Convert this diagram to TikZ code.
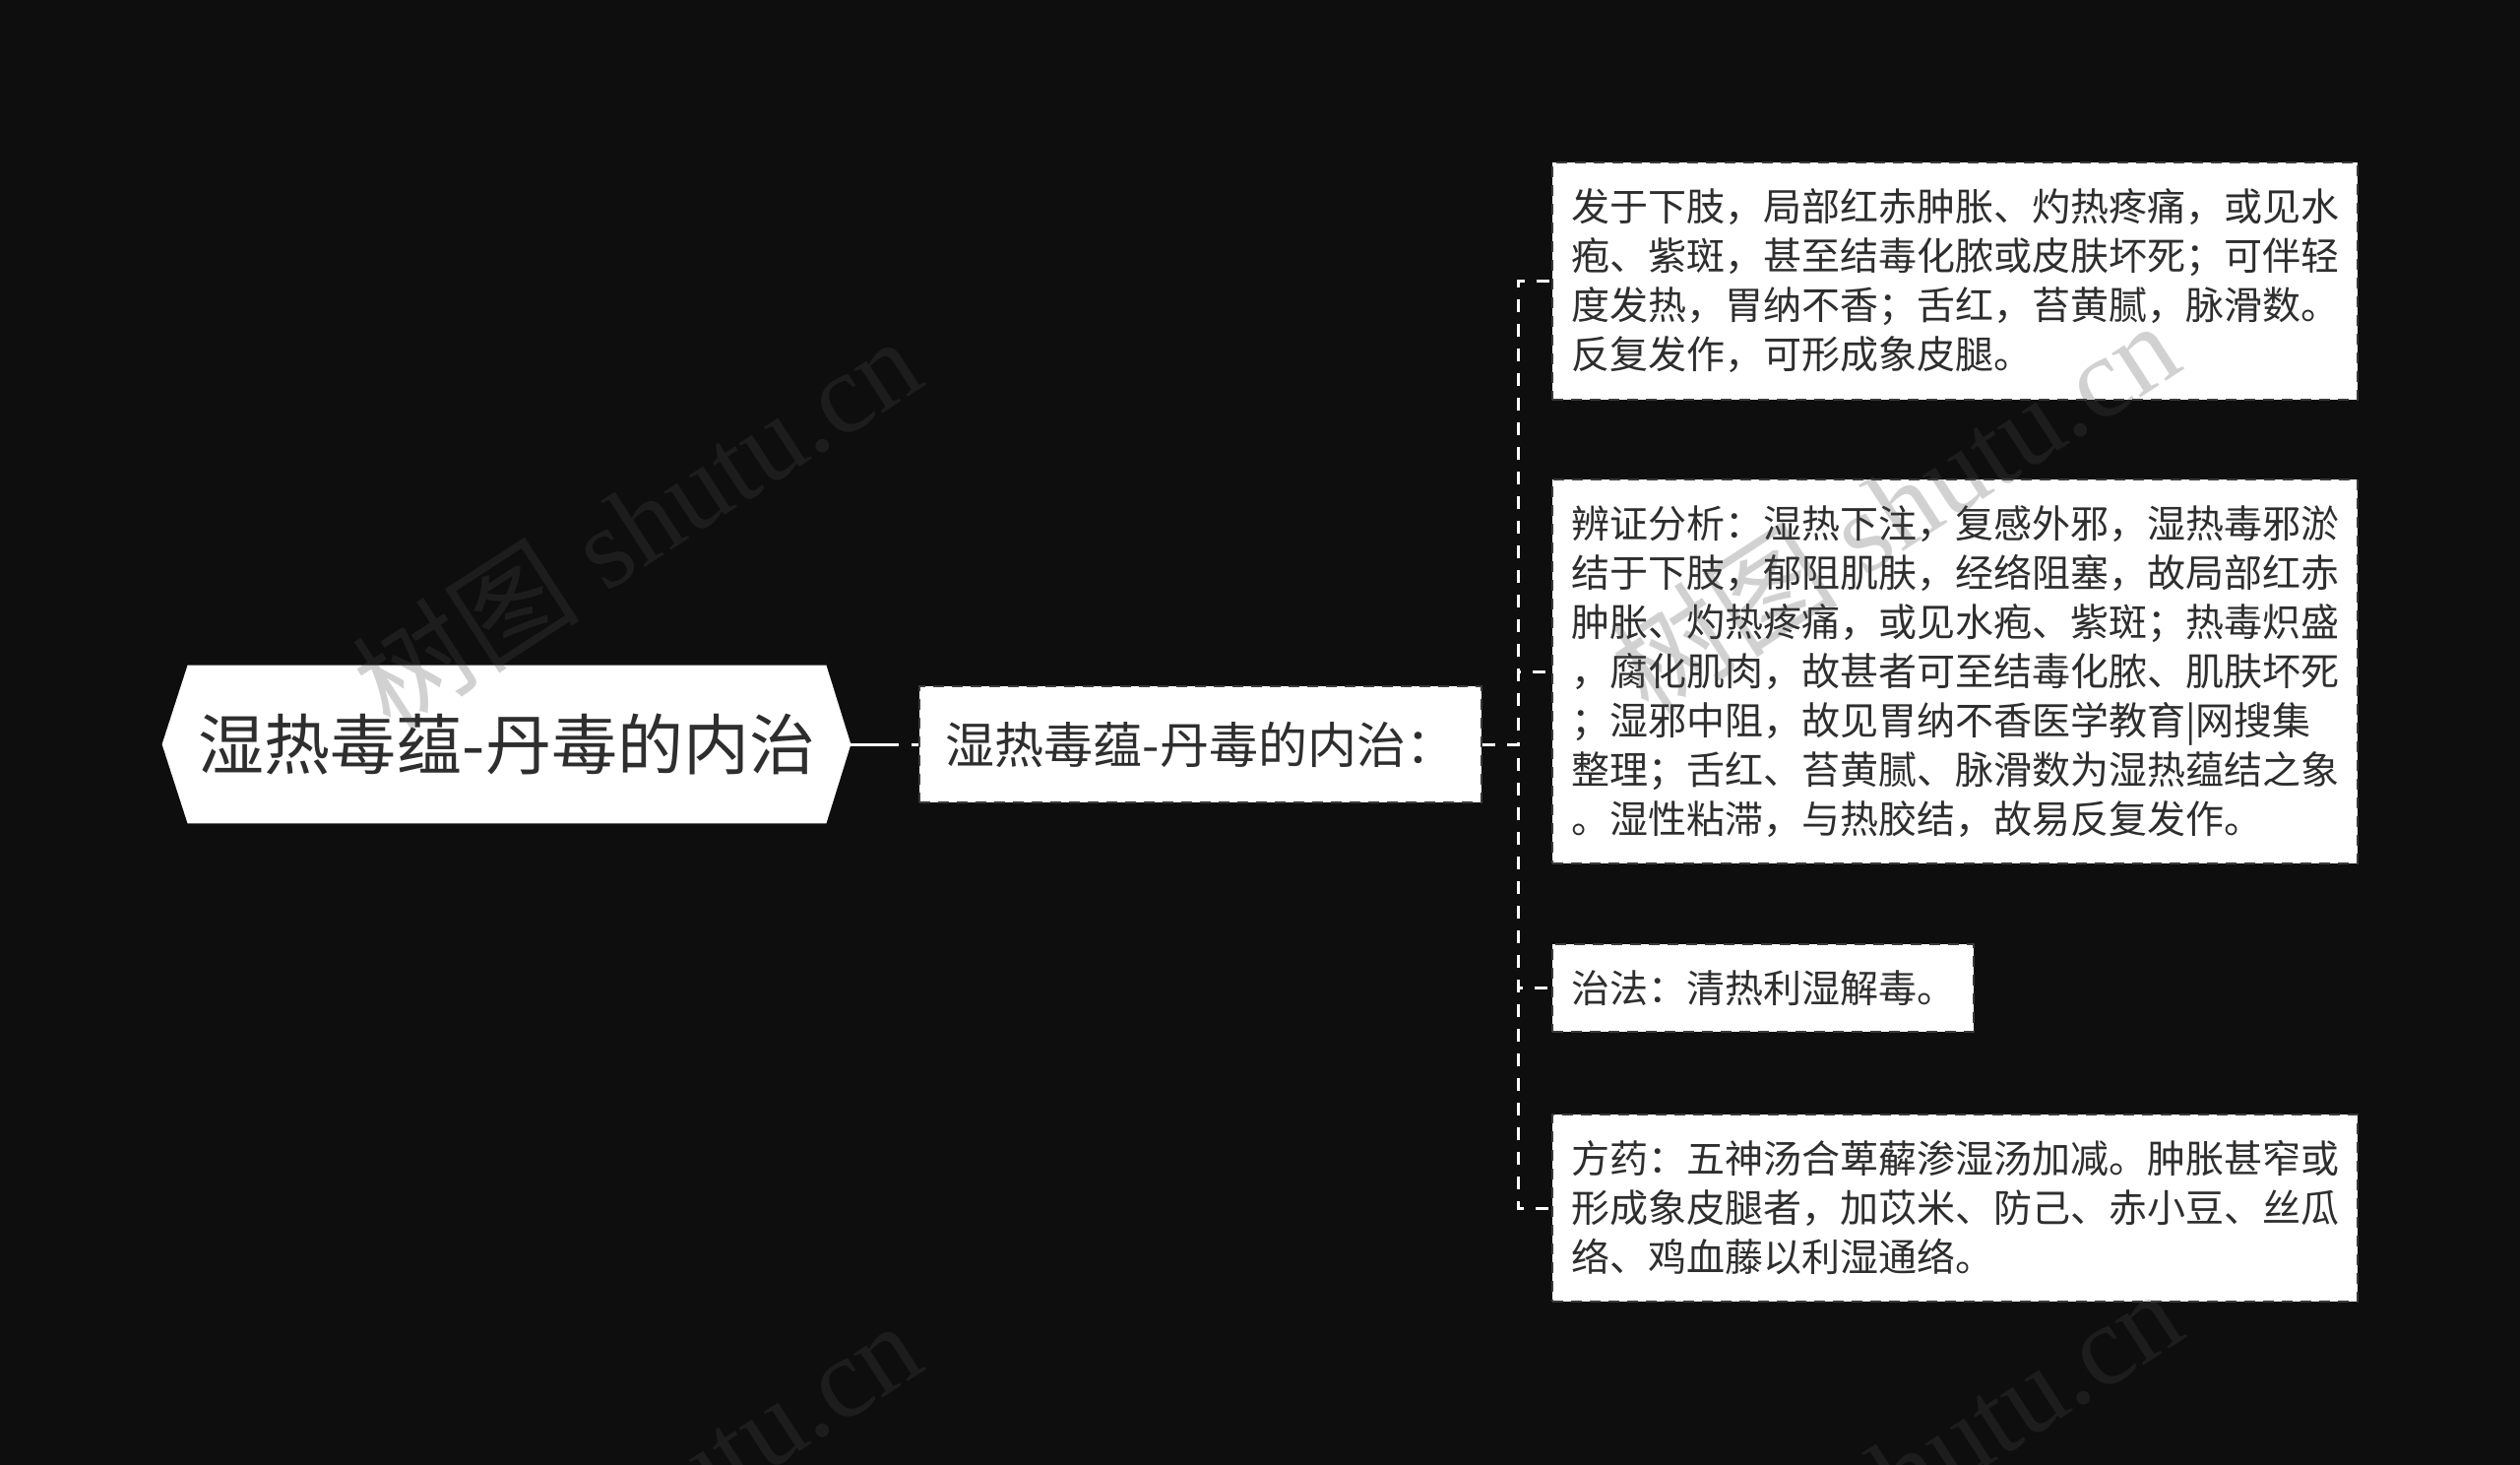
\documentclass[tikz,border=0pt]{standalone}
\usepackage{fontspec}
\newfontfamily\cjk{Noto Sans CJK SC}
\newfontfamily\wmlatin{Liberation Serif}
\usetikzlibrary{calc}
\pgfdeclarelayer{bg}
\pgfsetlayers{bg,main}
\definecolor{bgc}{HTML}{0E0E0E}
\definecolor{txt}{HTML}{2E2E2E}
\definecolor{bord}{HTML}{3A3A3A}
\definecolor{wmc}{HTML}{4A4A4A}
\begin{document}
\begin{tikzpicture}[x=0.5pt,y=-0.5pt,
  conn/.style={draw=white, line width=1.5pt, dash pattern=on 6.5pt off 6pt},
  rootconn/.style={draw=white, line width=1.5pt, dash pattern=on 24.5pt off 6.5pt},
  boxed/.style={fill=white, draw=bord, line width=1pt, dash pattern=on 5.5pt off 4pt, inner sep=0pt, text=txt},
  leaf/.style={boxed, anchor=west, align=left, font=\cjk\fontsize{19.5pt}{25pt}\selectfont},
  roottext/.style={inner sep=0pt, text=txt, font=\cjk\fontsize{33.5pt}{40pt}\selectfont},
  wm/.style={rotate=33, text=wmc, opacity=0.25, font=\wmlatin\fontsize{58pt}{60pt}\selectfont}]
\useasboundingbox (0,0) rectangle (2560,1488);
\clip (0,0) rectangle (2560,1488);
\begin{pgfonlayer}{bg}
\fill[bgc] (0,0) rectangle (2560,1488);
\end{pgfonlayer}

% root
\node[roottext, minimum width=324pt, minimum height=80pt] (root) at (515,756) {湿热毒蕴-丹毒的内治};
\coordinate (roottip) at ($(root.east)+(25,0)$);
\begin{pgfonlayer}{bg}
\fill[white] (root.north west) -- (root.north east) -- (roottip) -- (root.south east)
  -- (root.south west) -- ($(root.west)+(-26,0)$) -- cycle;
\end{pgfonlayer}

% child
\node[boxed, minimum width=285.5pt, minimum height=59pt, font=\cjk\fontsize{25pt}{30pt}\selectfont] (child) at (1219.5,756) {湿热毒蕴-丹毒的内治：};

% leaves
\node[leaf, text width=390pt, minimum width=409pt, minimum height=120.5pt] (l1) at (1576,285.5)
 {发于下肢，局部红赤肿胀、灼热疼痛，或见水\\疱、紫斑，甚至结毒化脓或皮肤坏死；可伴轻\\度发热，胃纳不香；舌红，苔黄腻，脉滑数。\\反复发作，可形成象皮腿。};
\node[leaf, text width=390pt, minimum width=409pt, minimum height=195pt] (l2) at (1576,682)
 {辨证分析：湿热下注，复感外邪，湿热毒邪淤\\结于下肢，郁阻肌肤，经络阻塞，故局部红赤\\肿胀、灼热疼痛，或见水疱、紫斑；热毒炽盛\\，腐化肌肉，故甚者可至结毒化脓、肌肤坏死\\；湿邪中阻，故见胃纳不香医学教育|网搜集\\整理；舌红、苔黄腻、脉滑数为湿热蕴结之象\\。湿性粘滞，与热胶结，故易反复发作。};
\node[leaf, minimum width=214pt, minimum height=44.5pt] (l3) at (1576,1003.5) {治法：清热利湿解毒。};
\node[leaf, text width=390pt, minimum width=409pt, minimum height=95pt] (l4) at (1576,1227)
 {方药：五神汤合萆薢渗湿汤加减。肿胀甚窄或\\形成象皮腿者，加苡米、防己、赤小豆、丝瓜\\络、鸡血藤以利湿通络。};

% connectors
\draw[rootconn] (roottip) -- (child.west);
\coordinate (trunk) at (1542,756);
\draw[conn] (child.east) -- (trunk) |- (l1.west);
\draw[conn] (child.east) -- (trunk) |- (l2.west);
\draw[conn] (child.east) -- (trunk) |- (l3.west);
\draw[conn] (child.east) -- (trunk) |- (l4.west);

% watermarks
\node[wm] (wm1) at (646,530) {{\cjk 树图} shutu.cn};
\node[wm] (wm2) at (1924,514) {{\cjk 树图} shutu.cn};
\node[wm] (wm3) at (646,1530) {{\cjk 树图} shutu.cn};
\node[wm] (wm4) at (1927,1497) {{\cjk 树图} shutu.cn};
\end{tikzpicture}
\end{document}
